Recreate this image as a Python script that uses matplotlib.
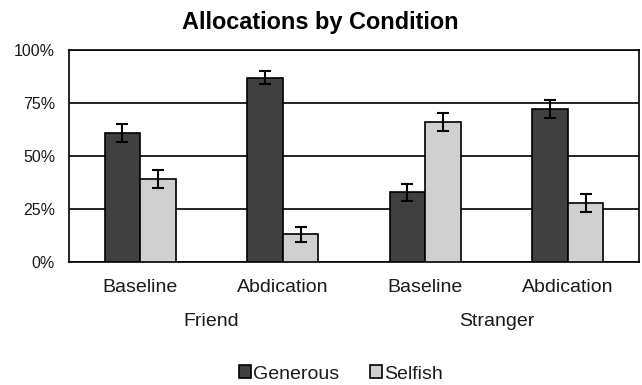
import matplotlib
matplotlib.use("Agg")
import matplotlib.pyplot as plt
import matplotlib.transforms as mtransforms
import numpy as np

plt.rcParams['font.family'] = ['Liberation Sans', 'DejaVu Sans']

conditions = ["Baseline", "Abdication", "Baseline", "Abdication"]
groups = ["Friend", "Stranger"]
generous = [61, 87, 33, 72]
generous_err = [4.2, 3.1, 4.0, 4.3]
selfish = [39, 13, 66, 28]
selfish_err = [4.3, 3.5, 4.1, 4.2]
yticks = [0, 25, 50, 75, 100]
ytick_labels = ["0%", "25%", "50%", "75%", "100%"]

fig = plt.figure(figsize=(6.42, 3.85), dpi=100)
W, H = 642, 385
ax = fig.add_axes([69 / W, (H - 262) / H, 570 / W, 212 / H])

x = np.arange(len(conditions))
bw = 0.25
err_kw = dict(ecolor='black', elinewidth=1.5, capsize=4, capthick=1.5)
ax.bar(x - bw / 2, generous, bw, yerr=generous_err, color='#404040',
       edgecolor='black', linewidth=1.2, label='Generous', error_kw=err_kw, zorder=3)
ax.bar(x + bw / 2, selfish, bw, yerr=selfish_err, color='#d0d0d0',
       edgecolor='black', linewidth=1.2, label='Selfish', error_kw=err_kw, zorder=3)

ax.set_xlim(-0.5, len(conditions) - 0.5)
ax.set_ylim(0, 100)
ax.set_yticks(yticks)
ax.set_yticklabels(ytick_labels, fontsize=11.5, color='#1a1a1a')
ax.set_xticks(x)
ax.set_xticklabels(conditions, fontsize=14, color='#1a1a1a')
ax.tick_params(axis='y', length=0, pad=10)
ax.tick_params(axis='x', length=0, pad=12.5)
ax.yaxis.grid(True, color='black', linewidth=1.2, zorder=0)
ax.set_axisbelow(True)
for s in ax.spines.values():
    s.set_linewidth(1.2)
    s.set_color('black')

trans = mtransforms.blended_transform_factory(ax.transData, fig.transFigure)
for i, g in enumerate(groups):
    ax.text(2 * i + 0.5, (H - 322) / H, g, transform=trans, ha='center',
            va='center', fontsize=14, color='#1a1a1a')

fig.text(320.5 / W, (H - 22) / H, "Allocations by Condition", ha='center',
         va='center', fontsize=16.9, fontweight='bold')

leg = fig.legend(loc='center', bbox_to_anchor=(341 / W, (H - 374) / H), ncol=2,
                 frameon=False, fontsize=14, handlelength=0.62, handleheight=0.62,
                 handletextpad=0.12, columnspacing=1.55, borderpad=0)
for t in leg.get_texts():
    t.set_color('#1a1a1a')

fig.savefig("out.png", dpi=100)
